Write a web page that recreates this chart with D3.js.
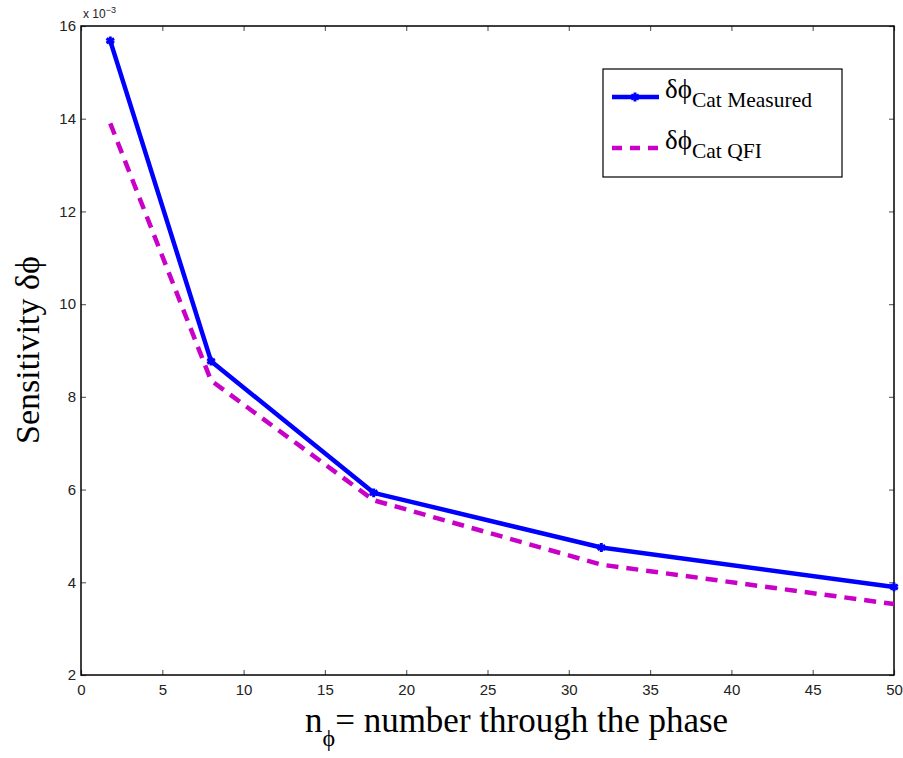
<!DOCTYPE html>
<html>
<head>
<meta charset="utf-8">
<script src="https://cdn.jsdelivr.net/npm/d3@7"></script>
<style>
  body { margin: 0; background: #fff; }
  svg { display: block; }
</style>
</head>
<body>
<div id="chart"></div>
<script>
//chart values
const nPhi = [1.8, 8, 18, 32, 50];
const measured = [15.68, 8.77, 5.93, 4.75, 3.9];
const qfi = [13.9, 8.35, 5.77, 4.38, 3.53];
const xTicks = [0, 5, 10, 15, 20, 25, 30, 35, 40, 45, 50];
const yTicks = [2, 4, 6, 8, 10, 12, 14, 16];

const width = 903, height = 758;
const plotL = 81, plotR = 894, plotT = 26, plotB = 675;

const svg = d3.select("#chart")
  .append("svg")
  .attr("width", width)
  .attr("height", height);

//scales
const x = d3.scaleLinear().domain([0, 50]).range([plotL, plotR]);
const y = d3.scaleLinear().domain([2, 16]).range([plotB, plotT]);

const tickFont = "15px 'Liberation Sans', Arial, sans-serif";

//axes, ticks pointing inward on all four sides
const bottomAxis = d3.axisBottom(x).tickValues(xTicks).tickSizeInner(-5).tickSizeOuter(0).tickPadding(9);
const leftAxis = d3.axisLeft(y).tickValues(yTicks).tickSizeInner(-5).tickSizeOuter(0).tickPadding(5);
const topAxis = d3.axisTop(x).tickValues(xTicks).tickSizeInner(-5).tickSizeOuter(0).tickFormat("");
const rightAxis = d3.axisRight(y).tickValues(yTicks).tickSizeInner(-5).tickSizeOuter(0).tickFormat("");

const gB = svg.append("g").attr("transform", `translate(0,${plotB})`).call(bottomAxis);
const gL = svg.append("g").attr("transform", `translate(${plotL},0)`).call(leftAxis);
const gT = svg.append("g").attr("transform", `translate(0,${plotT})`).call(topAxis);
const gR = svg.append("g").attr("transform", `translate(${plotR},0)`).call(rightAxis);

[gB, gL, gT, gR].forEach(g => {
  g.select(".domain").remove();
  g.selectAll(".tick line").attr("stroke", "#666").attr("stroke-width", 1.2);
  g.selectAll("text").style("font", tickFont).attr("fill", "#222");
});

//frame
svg.append("rect")
  .attr("x", plotL).attr("y", plotT)
  .attr("width", plotR - plotL).attr("height", plotB - plotT)
  .attr("fill", "none").attr("stroke", "#000").attr("stroke-width", 1.5);

//exponent label
const expo = svg.append("text")
  .attr("x", 83).attr("y", 18)
  .style("font", "12px 'Liberation Sans', Arial, sans-serif")
  .attr("fill", "#222");
expo.append("tspan").text("x 10");
expo.append("tspan").attr("dy", -5).style("font-size", "9px").text("\u22123");

//lines
const line = d3.line()
  .x((d, i) => x(nPhi[i]))
  .y(d => y(d));

svg.append("path")
  .datum(qfi)
  .attr("fill", "none")
  .attr("stroke", "#c800c8")
  .attr("stroke-width", 4.5)
  .attr("stroke-dasharray", "12,8")
  .attr("d", line);

svg.append("path")
  .datum(measured)
  .attr("fill", "none")
  .attr("stroke", "#0000ff")
  .attr("stroke-width", 4.5)
  .attr("stroke-linejoin", "round")
  .attr("d", line);

//star markers
const star = d3.symbol().type(d3.symbolAsterisk).size(55);
svg.selectAll(".mark")
  .data(measured)
  .enter()
  .append("path")
  .attr("class", "mark")
  .attr("d", star)
  .attr("transform", (d, i) => `translate(${x(nPhi[i])},${y(d)})`)
  .attr("stroke", "#0000ff")
  .attr("stroke-width", 3)
  .attr("fill", "#0000ff");

//legend
const serif = "'Liberation Serif', 'Times New Roman', serif";
const lg = svg.append("g");
lg.append("rect")
  .attr("x", 603).attr("y", 69)
  .attr("width", 239).attr("height", 108)
  .attr("fill", "#fff").attr("stroke", "#000").attr("stroke-width", 1.2);

lg.append("line")
  .attr("x1", 612).attr("x2", 659).attr("y1", 97).attr("y2", 97)
  .attr("stroke", "#0000ff").attr("stroke-width", 4.5);
lg.append("path")
  .attr("d", star)
  .attr("transform", "translate(635,97)")
  .attr("stroke", "#0000ff").attr("stroke-width", 3).attr("fill", "#0000ff");
lg.append("line")
  .attr("x1", 612).attr("x2", 659).attr("y1", 148).attr("y2", 148)
  .attr("stroke", "#c800c8").attr("stroke-width", 4.5)
  .attr("stroke-dasharray", "10,8");

const legendLabels = [["Cat Measured", 98], ["Cat QFI", 149]];
legendLabels.forEach(([sub, yy]) => {
  const t = lg.append("text")
    .attr("x", 665).attr("y", yy)
    .style("font-family", serif).style("font-size", "27px").attr("fill", "#000");
  t.append("tspan").text("\u03B4\u03D5");
  t.append("tspan").attr("dy", 9).style("font-size", "21.5px").text(sub);
});

//axis labels
const xl = svg.append("text")
  .attr("x", 305).attr("y", 732)
  .style("font-family", serif).style("font-size", "35px").attr("fill", "#000");
xl.append("tspan").text("n");
xl.append("tspan").attr("dy", 14).style("font-size", "24px").text("\u03D5");
xl.append("tspan").attr("dy", -14).text("= number through the phase");

svg.append("text")
  .attr("transform", `translate(39,350) rotate(-90)`)
  .attr("text-anchor", "middle")
  .style("font-family", serif).style("font-size", "34px").attr("fill", "#000")
  .text("Sensitivity \u03B4\u03D5");
</script>
</body>
</html>
